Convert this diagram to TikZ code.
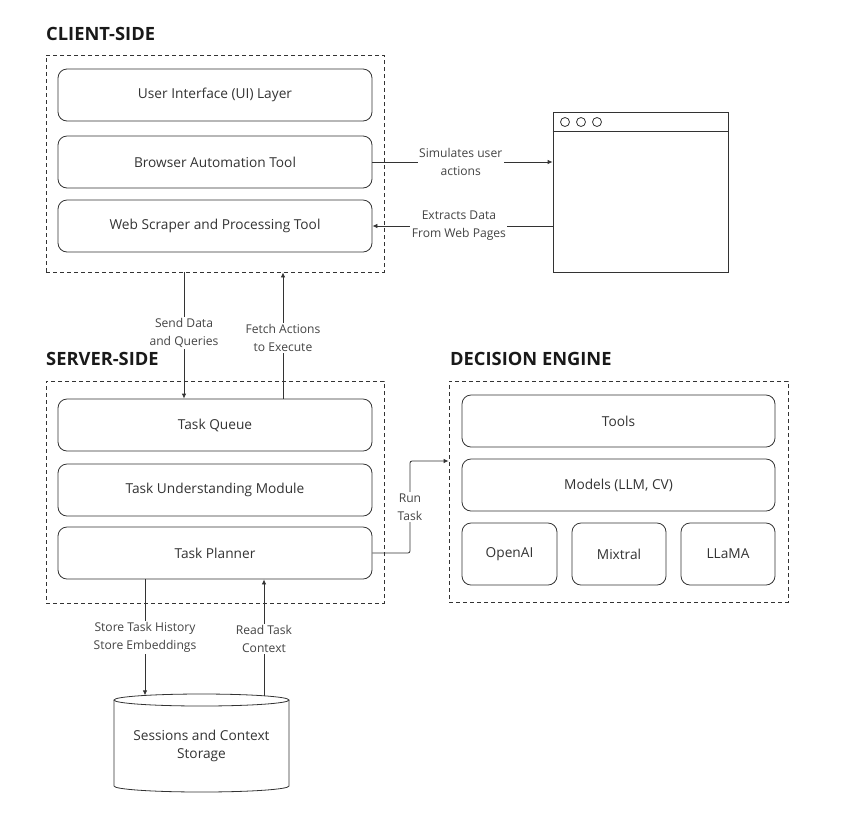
\documentclass[tikz,border=0pt]{standalone}
\usepackage{fontspec}
\setmainfont{Open Sans}
\usetikzlibrary{arrows.meta,calc}
\definecolor{ink}{HTML}{333333}
\definecolor{lblc}{HTML}{444444}
\tikzset{
  dbox/.style={draw=ink, line width=0.8pt, dash pattern=on 4pt off 3pt, inner sep=0pt},
  rbox/.style={draw=ink, line width=0.8pt, rounded corners=9pt, inner sep=0pt, text=ink,
    font=\fontsize{13.7}{16}\selectfont},
  ttl/.style={anchor=base west, inner sep=0pt, text=black!90, font=\fontsize{18.3}{20}\bfseries\selectfont},
  lbl/.style={fill=white, inner sep=1.5pt, align=center, text=lblc, font=\fontsize{12.1}{18}\selectfont},
  arr/.style={draw=ink, line width=0.8pt, -{Latex[length=5pt,width=4.5pt]}},
  conn/.style={draw=ink, line width=0.8pt},
  dot/.style={circle, draw=ink, line width=0.8pt, minimum size=9pt, inner sep=0pt},
}
\begin{document}
\begin{tikzpicture}[x=1pt,y=-1pt]
\useasboundingbox (0,0) rectangle (859,831);

% titles
\node[ttl] (tclient) at (46,40) {CLIENT-SIDE};
\node[ttl] (tserver) at (46,365) {SERVER-SIDE};
\node[ttl] (tdec) at (450,365) {DECISION ENGINE};

% client side
\node[dbox, minimum width=338pt, minimum height=217pt] (client) at (215,163.5) {};
\node[rbox, minimum width=314pt, minimum height=52pt] (ui) at (215,95) {User Interface (UI) Layer};
\node[rbox, minimum width=314pt, minimum height=52pt] (ba) at (215,162) {Browser Automation Tool};
\node[rbox, minimum width=314pt, minimum height=52pt] (ws) at (215,226) {Web Scraper and Processing Tool};

% browser window
\node[draw=ink, line width=0.8pt, minimum width=175pt, minimum height=160pt, inner sep=0pt] (browser) at (640.5,192) {};
\draw[conn] ($(browser.north west)+(0,20)$) -- ($(browser.north east)+(0,20)$);
\node[dot] (d1) at (565,122) {};
\node[dot] (d2) at (581,122) {};
\node[dot] (d3) at (597,122) {};

% server side
\node[dbox, minimum width=338pt, minimum height=222pt] (server) at (215,492) {};
\node[rbox, minimum width=314pt, minimum height=52pt] (tq) at (215,425) {Task Queue};
\node[rbox, minimum width=314pt, minimum height=52pt] (tu) at (215,490) {Task Understanding Module};
\node[rbox, minimum width=314pt, minimum height=52pt] (tp) at (215,553) {Task Planner};

% decision engine
\node[dbox, minimum width=339pt, minimum height=221pt] (dec) at (618.5,491.5) {};
\node[rbox, minimum width=313pt, minimum height=52pt] (tools) at (618.5,421) {Tools};
\node[rbox, minimum width=313pt, minimum height=52pt] (models) at (618.5,485) {Models (LLM, CV)};
\node[rbox, minimum width=95pt, minimum height=62pt] (openai) at (509.5,554) {OpenAI};
\node[rbox, minimum width=94pt, minimum height=62pt] (mixtral) at (619,554) {Mixtral};
\node[rbox, minimum width=94pt, minimum height=62pt] (llama) at (728,554) {LLaMA};

% storage cylinder
\node[inner sep=0pt, minimum width=175pt, minimum height=98pt, align=center, text=ink,
  font=\fontsize{13.7}{18}\selectfont] (store) at (201.5,746) {Sessions and Context\\Storage};
\draw[conn] (114,700) -- (114,786) arc[start angle=180, end angle=360, x radius=87.5pt, y radius=6pt]
  -- (289,700);
\draw[conn] (201.5,700) ellipse[x radius=87.5pt, y radius=6pt];
\coordinate (stin) at (145,695.4);
\coordinate (stout) at (264,695.8);

% connectors
\draw[arr] (ba.east) -- node[lbl, pos=0.49] {Simulates user\\actions} (ba.east -| browser.west);
\draw[arr] (ws.east -| browser.west) -- node[lbl, pos=0.52] {Extracts Data\\From Web Pages} (ws.east);

\coordinate (sd) at (184,0);
\coordinate (fa) at (283,0);
\draw[arr] (client.south -| sd) -- node[lbl, pos=0.48] {Send Data\\and Queries} (tq.north -| sd);
\draw[arr] (tq.north -| fa) -- node[lbl, pos=0.48] {Fetch Actions\\to Execute} (client.south -| fa);

\coordinate (rt) at (410,461);
\draw[arr, rounded corners=2pt] (tp.east) -- (tp.east -| rt) -- node[lbl, pos=0.5] {Run\\Task} (rt) -- (dec.west |- rt);

\draw[arr] (tp.south -| stin) -- node[lbl, pos=0.5] {Store Task History\\Store Embeddings} (stin);
\draw[arr] (stout) -- node[lbl, pos=0.49] {Read Task\\Context} (tp.south -| stout);
\end{tikzpicture}
\end{document}
